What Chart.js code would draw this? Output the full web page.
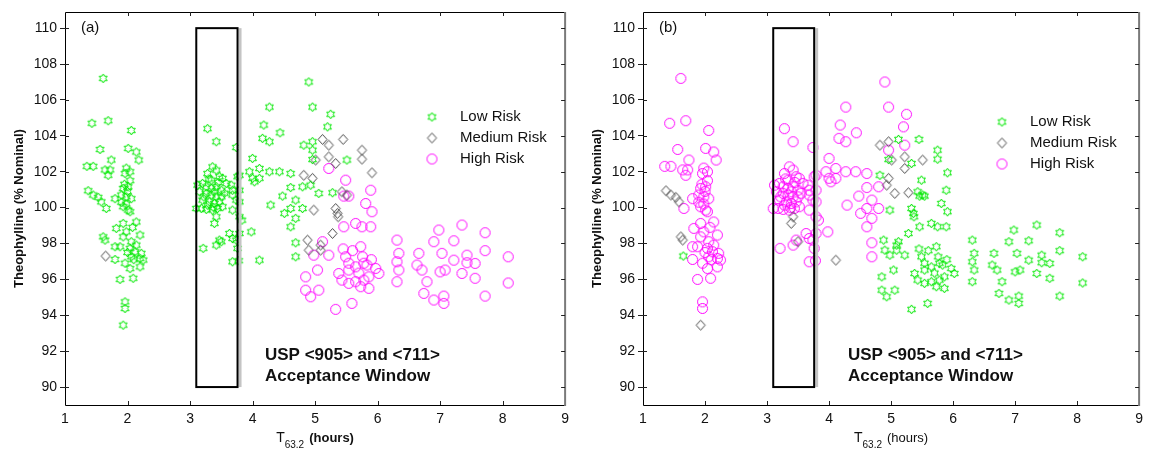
<!DOCTYPE html>
<html>
<head>
<meta charset="utf-8">
<title>Theophylline vs T63.2</title>
<script src="https://cdn.jsdelivr.net/npm/chart.js@4.4.1/dist/chart.umd.min.js"></script>
<style>
    html, body { margin: 0; padding: 0; background: #fff; }
    #wrap { position: relative; width: 1149px; height: 449px; }
    .panel { position: absolute; top: 0; height: 449px; }
</style>
</head>
<body>
<div id="wrap">
    <div class="panel" style="left:0;width:575px"><canvas id="chart-a" width="575" height="449"></canvas></div>
    <div class="panel" style="left:578px;width:571px"><canvas id="chart-b" width="571" height="449"></canvas></div>
</div>
<script>
// Axis ticks and the USP <905>/<711> acceptance window
const X_TICKS = [1, 2, 3, 4, 5, 6, 7, 8, 9];
const Y_TICKS = [90, 92, 94, 96, 98, 100, 102, 104, 106, 108, 110];
const WINDOW_T63 = [3.1, 3.76];
const WINDOW_THEO = [90, 110];
const RISK_LABELS = ['Low Risk', 'Medium Risk', 'High Risk'];

// Panel (a): [T63.2 (hours), theophylline (% nominal)]
const lowRiskA = [
    [1.61,107.2],[1.43,104.7],[1.69,104.84],[2.06,104.3],[1.56,103.24],[2.01,103.3],[2.14,103.1],[2.18,102.65],
    [1.74,102.65],[1.35,102.3],[1.45,102.3],[1.64,102.1],[1.72,102.1],[1.69,101.8],[1.98,102.2],[2.04,102.0],
    [1.96,101.9],[2.04,101.5],[1.93,101.07],[2.01,101.16],[1.95,101.3],[2.0,100.9],[1.66,99.95],[1.80,100.5],
    [1.90,100.7],[1.98,100.6],[2.06,100.5],[1.90,100.3],[1.98,100.2],[1.93,100.05],[2.01,99.86],[2.04,99.77],
    [2.14,99.2],[1.82,98.84],[1.93,99.12],[1.98,98.65],[2.08,98.9],[1.93,98.37],[2.2,98.47],[2.06,98.1],
    [2.14,97.91],[1.80,97.82],[1.88,97.82],[2.04,97.73],[2.12,97.54],[2.0,97.5],[2.22,97.45],[2.06,97.26],
    [2.20,97.17],[2.25,97.08],[2.1,97.1],[1.80,97.11],[1.96,96.9],[2.04,96.6],[2.2,96.7],[2.09,96.06],
    [1.88,96.0],[1.96,94.75],[1.96,94.38],[1.37,100.94],[1.45,100.7],[1.53,100.57],[1.58,100.32],[1.61,98.37],
    [1.64,98.19],[1.93,93.45],
    [3.28,104.4],[3.42,103.67],[3.74,103.35],[3.36,102.27],[3.42,102.09],[3.28,101.9],[3.47,101.72],[3.52,101.63],
    [3.30,101.6],[3.34,101.53],[3.45,101.4],[3.12,101.25],[3.20,101.35],[3.26,101.16],[3.34,101.07],[3.42,101.16],
    [3.50,100.97],[3.58,101.35],[3.66,101.25],[3.15,100.88],[3.39,100.88],[3.26,100.79],[3.55,100.8],[3.34,100.7],
    [3.22,100.6],[3.42,100.6],[3.50,100.6],[3.20,100.42],[3.31,100.32],[3.39,100.23],[3.47,100.32],[3.28,100.14],
    [3.38,100.0],[3.10,99.95],[3.18,99.95],[3.26,99.9],[3.36,99.86],[3.44,99.95],[3.52,100.05],[3.68,100.97],
    [3.68,100.7],[3.76,101.72],[3.74,100.42],[3.68,99.86],[3.21,97.73],[3.42,97.91],[3.47,98.19],[3.63,98.56],
    [3.68,98.28],[3.74,98.19],[3.68,96.98],[3.78,97.04],[3.76,97.73],[3.83,99.3],[3.79,101.8],[3.79,100.97],
    [3.79,100.32],[3.79,99.49],[3.79,98.56],[3.42,99.49],[3.39,99.12],[3.50,98.1],
    [4.90,107.0],[4.27,105.6],[4.96,105.6],[5.25,105.2],[4.18,104.6],[4.44,104.17],[5.20,104.5],[4.16,103.86],
    [4.27,103.67],[4.82,103.48],[4.96,103.67],[4.96,103.2],[4.00,102.74],[4.96,102.68],[5.51,102.65],[3.95,102.0],
    [4.11,102.18],[4.27,102.0],[4.43,102.0],[4.61,101.9],[4.00,101.63],[4.11,101.63],[4.03,101.44],[4.61,101.12],
    [4.80,101.16],[4.93,101.25],[4.48,100.64],[5.06,100.79],[5.28,100.83],[4.29,100.14],[4.51,99.68],[4.61,99.95],
    [4.69,100.42],[4.80,99.95],[4.69,99.4],[4.61,98.93],[3.98,98.65],[4.69,98.04],[4.69,97.26],[4.11,97.07]
];
const mediumRiskA = [
    [1.65,97.3],[5.12,103.8],[5.22,103.48],[5.45,103.8],[5.75,103.2],[5.75,102.7],[5.01,102.65],[5.22,102.83],
    [5.33,102.46],[5.91,101.94],[4.82,101.8],[4.96,101.63],[5.43,100.88],[5.51,100.7],[4.98,99.86],[5.33,99.95],
    [5.36,99.68],[5.37,99.49],[5.28,98.56],[4.88,98.19],[4.90,97.63],[5.09,97.91],[5.09,97.63]
];
const highRiskA = [
    [5.22,102.18],[5.49,101.53],[5.89,100.97],[5.46,100.64],[5.54,100.64],[5.81,100.23],[5.91,99.77],[5.46,98.93],
    [5.65,99.12],[5.75,98.93],[5.89,98.93],[6.31,98.19],[6.34,97.45],[6.31,96.98],[6.34,96.52],[6.31,95.87],
    [5.73,97.82],[5.76,97.26],[5.78,96.9],[5.12,98.1],[4.98,97.35],[5.22,97.35],[5.49,97.26],[5.54,96.9],
    [5.04,96.52],[4.85,96.14],[5.38,96.33],[5.54,96.52],[5.65,96.7],[5.83,96.8],[5.97,96.61],[6.02,96.33],
    [5.86,96.14],[5.43,95.96],[5.54,95.78],[5.65,95.87],[5.73,95.59],[5.86,95.5],[5.78,95.96],[4.85,95.4],
    [4.93,95.03],[5.06,95.4],[5.59,94.66],[5.33,94.33],[5.60,97.6],[5.90,97.1],[5.70,96.35],[5.45,97.7],
    [6.98,98.75],[7.35,99.03],[7.72,98.6],[6.90,98.1],[7.22,98.15],[7.72,97.6],[8.09,97.26],[6.66,97.45],
    [7.03,97.45],[7.22,97.07],[7.43,97.35],[7.43,96.93],[7.56,96.89],[6.63,96.8],[6.71,96.52],[7.0,96.42],
    [7.08,96.52],[7.35,96.33],[7.56,96.06],[6.79,95.87],[6.74,95.22],[6.90,94.85],[7.06,95.07],[7.06,94.66],
    [7.72,95.07],[8.09,95.8]
];

// Panel (b): same lots, second risk assessment
const lowRiskB = [
    [1.65,97.3],[4.96,102.68],[5.12,103.8],[5.45,103.8],[5.75,103.2],[5.75,102.7],[5.33,102.46],[5.91,101.94],
    [4.82,101.8],[5.43,100.88],[5.51,100.7],[4.98,99.86],[5.33,99.95],[5.36,99.68],[5.37,99.49],[5.28,98.56],
    [4.88,98.19],[4.90,97.63],[5.09,97.91],[5.09,97.63],
    [5.49,101.53],[5.89,100.97],[5.46,100.64],[5.54,100.64],[5.81,100.23],[5.91,99.77],[5.46,98.93],
    [5.65,99.12],[5.75,98.93],[5.89,98.93],[6.31,98.19],[6.34,97.45],[6.31,96.98],[6.34,96.52],[6.31,95.87],
    [5.73,97.82],[5.76,97.26],[5.78,96.9],[5.12,98.1],[4.98,97.35],[5.22,97.35],[5.49,97.26],[5.54,96.9],
    [5.04,96.52],[4.85,96.14],[5.38,96.33],[5.54,96.52],[5.65,96.7],[5.83,96.8],[5.97,96.61],[6.02,96.33],
    [5.86,96.14],[5.43,95.96],[5.54,95.78],[5.65,95.87],[5.73,95.59],[5.86,95.5],[5.78,95.96],[4.85,95.4],
    [4.93,95.03],[5.06,95.4],[5.59,94.66],[5.33,94.33],[5.60,97.6],[5.90,97.1],[5.70,96.35],[5.45,97.7],
    [6.98,98.75],[7.35,99.03],[7.72,98.6],[6.90,98.1],[7.22,98.15],[7.72,97.6],[8.09,97.26],[6.66,97.45],
    [7.03,97.45],[7.22,97.07],[7.43,97.35],[7.43,96.93],[7.56,96.89],[6.63,96.8],[6.71,96.52],[7.0,96.42],
    [7.08,96.52],[7.35,96.33],[7.56,96.06],[6.79,95.87],[6.74,95.22],[6.90,94.85],[7.06,95.07],[7.06,94.66],
    [7.72,95.07],[8.09,95.8]
];
const mediumRiskB = [
    [1.37,100.94],[1.45,100.7],[1.53,100.57],[1.58,100.32],[1.61,98.37],[1.64,98.19],[1.93,93.45],[3.42,99.49],
    [3.39,99.12],[3.50,98.1],[4.11,97.07],[4.82,103.48],[4.96,103.67],[5.51,102.65],[4.93,101.25],[5.06,100.79],
    [5.28,100.83],[5.01,102.65],[5.22,102.83],[4.96,101.63],[5.22,102.18]
];
const highRiskB = [
    [1.61,107.2],[1.43,104.7],[1.69,104.84],[2.06,104.3],[1.56,103.24],[2.01,103.3],[2.14,103.1],[2.18,102.65],
    [1.74,102.65],[1.35,102.3],[1.45,102.3],[1.64,102.1],[1.72,102.1],[1.69,101.8],[1.98,102.2],[2.04,102.0],
    [1.96,101.9],[2.04,101.5],[1.93,101.07],[2.01,101.16],[1.95,101.3],[2.0,100.9],[1.66,99.95],[1.80,100.5],
    [1.90,100.7],[1.98,100.6],[2.06,100.5],[1.90,100.3],[1.98,100.2],[1.93,100.05],[2.01,99.86],[2.04,99.77],
    [2.14,99.2],[1.82,98.84],[1.93,99.12],[1.98,98.65],[2.08,98.9],[1.93,98.37],[2.2,98.47],[2.06,98.1],
    [2.14,97.91],[1.80,97.82],[1.88,97.82],[2.04,97.73],[2.12,97.54],[2.0,97.5],[2.22,97.45],[2.06,97.26],
    [2.20,97.17],[2.25,97.08],[2.1,97.1],[1.80,97.11],[1.96,96.9],[2.04,96.6],[2.2,96.7],[2.09,96.06],
    [1.88,96.0],[1.96,94.75],[1.96,94.38],
    [3.28,104.4],[3.42,103.67],[3.74,103.35],[3.36,102.27],[3.42,102.09],[3.28,101.9],[3.47,101.72],[3.52,101.63],
    [3.30,101.6],[3.34,101.53],[3.45,101.4],[3.12,101.25],[3.20,101.35],[3.26,101.16],[3.34,101.07],[3.42,101.16],
    [3.50,100.97],[3.58,101.35],[3.66,101.25],[3.15,100.88],[3.39,100.88],[3.26,100.79],[3.55,100.8],[3.34,100.7],
    [3.22,100.6],[3.42,100.6],[3.50,100.6],[3.20,100.42],[3.31,100.32],[3.39,100.23],[3.47,100.32],[3.28,100.14],
    [3.38,100.0],[3.10,99.95],[3.18,99.95],[3.26,99.9],[3.36,99.86],[3.44,99.95],[3.52,100.05],[3.68,100.97],
    [3.68,100.7],[3.76,101.72],[3.74,100.42],[3.68,99.86],[3.21,97.73],[3.42,97.91],[3.47,98.19],[3.63,98.56],
    [3.68,98.28],[3.74,98.19],[3.68,96.98],[3.78,97.04],[3.76,97.73],[3.83,99.3],[3.79,101.8],[3.79,100.97],
    [3.79,100.32],[3.79,99.49],[3.79,98.56],
    [4.90,107.0],[4.27,105.6],[4.96,105.6],[5.25,105.2],[4.18,104.6],[4.44,104.17],[5.20,104.5],[4.16,103.86],
    [4.27,103.67],[4.96,103.2],[4.00,102.74],[3.95,102.0],[4.11,102.18],[4.27,102.0],[4.43,102.0],[4.61,101.9],
    [4.00,101.63],[4.11,101.63],[4.03,101.44],[4.61,101.12],[4.80,101.16],[4.48,100.64],[4.29,100.14],[4.51,99.68],
    [4.61,99.95],[4.69,100.42],[4.80,99.95],[4.69,99.4],[4.61,98.93],[3.98,98.65],[4.69,98.04],[4.69,97.26],
    [5.22,103.48]
];

const FONT = '"Liberation Sans", Arial, Helvetica, sans-serif';
Chart.defaults.font.family = FONT;
Chart.defaults.color = '#111';

// Hollow MATLAB-style markers: hexagram, diamond, circle
function makeMarker(kind, color) {
    const c = document.createElement('canvas');
    c.width = 13;
    c.height = 13;
    const g = c.getContext('2d');
    const cx = 6.5, cy = 6.5;
    g.strokeStyle = color;
    g.lineWidth = 1;
    g.beginPath();
    if (kind === 'hexagram') {
        for (let i = 0; i < 12; i++) {
            const r = i % 2 ? 2.6 : 4.5;
            const a = -Math.PI / 2 + i * Math.PI / 6;
            const px = cx + r * Math.cos(a), py = cy + r * Math.sin(a);
            if (i === 0) g.moveTo(px, py); else g.lineTo(px, py);
        }
        g.closePath();
    } else if (kind === 'diamond') {
        g.moveTo(cx, cy - 5);
        g.lineTo(cx + 4.5, cy);
        g.lineTo(cx, cy + 5);
        g.lineTo(cx - 4.5, cy);
        g.closePath();
    } else {
        g.arc(cx, cy, 5, 0, Math.PI * 2);
    }
    g.stroke();
    return c;
}

const MARKERS = [
    makeMarker('hexagram', '#00e800'),
    makeMarker('diamond', '#4a4a4a'),
    makeMarker('circle', '#ff00ff')
];

/** Frame, inside ticks, acceptance window, legend and text notes */
const panelDecor = {
    id: 'panelDecor',
    afterDatasetsDraw(chart, args, opts) {
        const { ctx, chartArea: area } = chart;
        const xs = chart.scales.x, ys = chart.scales.y;
        ctx.save();

        // acceptance window with its grey shadow
        const l = xs.getPixelForValue(WINDOW_T63[0]);
        const r = xs.getPixelForValue(WINDOW_T63[1]);
        const t = ys.getPixelForValue(WINDOW_THEO[1]);
        const b = ys.getPixelForValue(WINDOW_THEO[0]);
        ctx.fillStyle = '#c4c4c4';
        ctx.fillRect(r + 1, t, 3, b - t);
        ctx.strokeStyle = '#000';
        ctx.lineWidth = 2;
        ctx.strokeRect(l, t, r - l, b - t);

        // axes box
        ctx.lineWidth = 1;
        ctx.strokeStyle = '#000';
        ctx.beginPath();
        ctx.moveTo(area.right, area.top + 0.5);
        ctx.lineTo(area.left + 0.5, area.top + 0.5);
        ctx.lineTo(area.left + 0.5, area.bottom + 0.5);
        ctx.lineTo(area.right, area.bottom + 0.5);
        ctx.stroke();
        ctx.strokeStyle = '#7a7a7a';
        ctx.lineWidth = 2;
        ctx.beginPath();
        ctx.moveTo(area.right, area.top);
        ctx.lineTo(area.right, area.bottom + 1);
        ctx.stroke();

        // inward ticks on all four sides
        ctx.strokeStyle = '#222';
        ctx.lineWidth = 1;
        ctx.beginPath();
        X_TICKS.slice(1, -1).forEach(v => {
            const px = Math.round(xs.getPixelForValue(v)) + 0.5;
            ctx.moveTo(px, area.top); ctx.lineTo(px, area.top + 4);
            ctx.moveTo(px, area.bottom); ctx.lineTo(px, area.bottom - 4);
        });
        Y_TICKS.forEach(v => {
            const py = Math.round(ys.getPixelForValue(v)) + 0.5;
            ctx.moveTo(area.left, py); ctx.lineTo(area.left + 4, py);
            ctx.moveTo(area.right, py); ctx.lineTo(area.right - 4, py);
        });
        ctx.stroke();

        ctx.fillStyle = '#111';
        ctx.textBaseline = 'middle';
        ctx.textAlign = 'left';

        // panel tag
        ctx.font = '15px ' + FONT;
        ctx.fillText(opts.tag, area.left + 16, area.top + 16);

        // legend
        chart.data.datasets.forEach((ds, i) => {
            const mx = area.left + opts.legendX;
            const my = area.top + opts.legendY + i * 21;
            const img = ds.pointStyle;
            ctx.drawImage(img, mx - img.width / 2, my - img.height / 2);
            ctx.font = '15px ' + FONT;
            ctx.fillText(ds.label, mx + 28, my);
        });

        // acceptance window note
        ctx.font = 'bold 17px ' + FONT;
        ctx.fillText('USP <905> and <711>', area.left + opts.noteX, 355);
        ctx.fillText('Acceptance Window', area.left + opts.noteX, 376);

        // x-axis title with subscript
        const fT = '14px ' + FONT, fSub = '10px ' + FONT;
        const fHours = (opts.hoursBold ? 'bold ' : '') + '13px ' + FONT;
        ctx.font = fT; const wT = ctx.measureText('T').width;
        ctx.font = fSub; const wSub = ctx.measureText('63.2').width;
        ctx.font = fHours; const wH = ctx.measureText('(hours)').width;
        let tx = (area.left + area.right) / 2 - (wT + wSub + 5 + wH) / 2;
        ctx.textBaseline = 'alphabetic';
        ctx.font = fT; ctx.fillText('T', tx, 442);
        tx += wT;
        ctx.font = fSub; ctx.fillText('63.2', tx, 448);
        tx += wSub + 5;
        ctx.font = fHours; ctx.fillText('(hours)', tx, 442);

        ctx.restore();
    }
};

function buildChart(canvasId, series, decor) {
    return new Chart(document.getElementById(canvasId), {
        type: 'scatter',
        data: {
            datasets: series.map((pts, i) => ({
                label: RISK_LABELS[i],
                data: pts.map(([x, y]) => ({ x, y })),
                pointStyle: MARKERS[i],
                pointRadius: 5
            }))
        },
        options: {
            responsive: false,
            animation: false,
            events: [],
            layout: { padding: { top: 12, right: decor.padRight, left: 0, bottom: 0 } },
            plugins: {
                legend: { display: false },
                tooltip: { enabled: false },
                panelDecor: decor
            },
            scales: {
                x: {
                    type: 'linear',
                    min: 1,
                    max: 9,
                    afterBuildTicks: s => { s.ticks = X_TICKS.map(v => ({ value: v })); },
                    afterFit: s => { s.height = 44; },
                    grid: { display: false, drawTicks: false },
                    border: { display: false },
                    ticks: { font: { size: 14 }, color: '#111', padding: 6, maxRotation: 0 }
                },
                y: {
                    type: 'linear',
                    min: 89,
                    max: 110.9,
                    afterBuildTicks: s => { s.ticks = Y_TICKS.map(v => ({ value: v })); },
                    afterFit: s => { s.width = 65; },
                    grid: { drawOnChartArea: false, drawTicks: true, tickLength: 5, color: '#222' },
                    border: { display: false },
                    ticks: { font: { size: 14 }, color: '#111', padding: 3 },
                    title: {
                        display: true,
                        text: 'Theophylline (% Nominal)',
                        font: { size: 13, weight: 'bold' },
                        color: '#111',
                        padding: { top: 12, bottom: 0 }
                    }
                }
            }
        },
        plugins: [panelDecor]
    });
}

buildChart('chart-a', [lowRiskA, mediumRiskA, highRiskA], {
    tag: '(a)', legendX: 367, legendY: 105, noteX: 200, hoursBold: true, padRight: 8
});
buildChart('chart-b', [lowRiskB, mediumRiskB, highRiskB], {
    tag: '(b)', legendX: 359, legendY: 110, noteX: 205, hoursBold: false, padRight: 5
});
</script>
</body>
</html>
